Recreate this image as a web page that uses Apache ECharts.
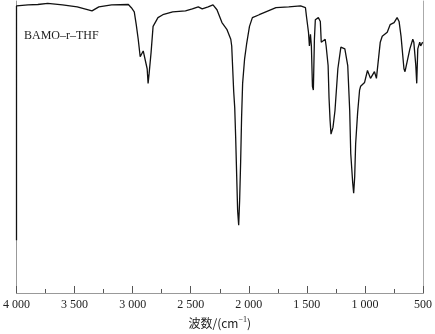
<!DOCTYPE html>
<html><head><meta charset="utf-8">
<script src="https://cdn.jsdelivr.net/npm/echarts@6/dist/echarts.min.js"></script>
<style>html,body{margin:0;padding:0;background:#fff}#c{width:435px;height:334px}</style>
</head><body><div id="c"></div>
<script>
var wavenumbers = [4000,4000,3901,3816,3731,3604,3477,3350,3291,3181,3037,3011,2986,2969,2952,2935,2909,2892,2875,2867,2858,2841,2824,2808,2782,2740,2655,2545,2486,2435,2401,2350,2308,2274,2231,2189,2155,2147,2130,2121,2113,2104,2096,2087,2079,2070,2062,2053,2036,2019,1994,1969,1910,1766,1656,1554,1512,1503,1486,1478,1469,1461,1452,1444,1435,1427,1401,1384,1376,1359,1342,1334,1317,1309,1300,1292,1275,1258,1233,1207,1190,1173,1148,1131,1122,1105,1097,1088,1080,1063,1046,1037,1003,978,952,918,901,868,851,808,783,749,723,706,689,664,655,638,613,588,579,562,554,545,528,520,503];
var transmittance = [18.1,98.3,98.7,98.8,99.2,98.7,98.0,96.6,98.0,98.7,98.8,97.7,96.3,91.9,86.9,80.9,82.9,82.5,76.8,71.8,75.2,82.5,91.3,90.9,94.3,95.3,96.3,96.6,97.3,98.0,97.3,98.0,98.7,97.0,92.6,90.3,86.9,84.6,69.1,63.4,53.4,39.9,28.2,23.2,31.5,45.0,60.1,71.8,80.2,85.2,91.3,94.3,95.3,97.7,98.0,98.3,97.7,94.6,89.3,84.6,88.6,84.6,70.8,69.5,86.9,93.6,94.3,93.0,85.9,85.9,86.9,84.6,77.9,66.8,59.1,54.4,56.7,62.4,76.8,84.2,84.6,83.6,77.9,62.4,47.7,37.6,34.2,39.9,51.0,61.7,69.5,70.8,72.1,76.2,73.5,75.8,73.5,85.9,87.9,89.3,91.9,92.6,94.3,93.0,87.9,76.8,75.8,76.2,83.6,86.9,85.9,77.9,71.8,83.6,85.9,84.6,85.9];
var xTicks = [500,1000,1500,2000,2500,3000,3500,4000];
var sampleLabel = 'BAMO–r–THF';
var xName = '波数/(cm{sup|−1})';

var data = wavenumbers.map(function(w,i){return [w, transmittance[i]];});
var serif = '"Liberation Serif","DejaVu Serif",serif';
var chart = echarts.init(document.getElementById('c'));
chart.setOption({
  animation:false,
  grid:{left:13,right:9,top:1,bottom:35},
  xAxis:[{
    type:'value', inverse:true, min:500, max:4000, interval:500,
    axisLine:{show:true,lineStyle:{color:'#555',width:1}},
    axisTick:{show:true,inside:true,length:7,lineStyle:{color:'#555'}},
    minorTick:{show:true,splitNumber:2,length:4,lineStyle:{color:'#555'}},
    splitLine:{show:false},
    axisLabel:{margin:6,fontFamily:serif,fontSize:12,color:'#222',
      formatter:function(v){return xTicks.indexOf(v)>=0 ? (v>=1000? Math.floor(v/1000)+' '+String(v%1000).padStart(3,'0') : String(v)) : '';}},
    name:xName, nameLocation:'middle', nameGap:23,
    nameTextStyle:{fontFamily:'"Noto Sans CJK SC",'+serif,fontSize:12,color:'#222',
      rich:{sup:{fontSize:8,verticalAlign:'top',padding:[0,0,6,0],fontFamily:serif,color:'#222'}}}
  },{
    type:'value', inverse:true, min:500, max:4000, position:'top',
    axisLine:{show:true,lineStyle:{color:'#999',width:1}},
    axisTick:{show:false},axisLabel:{show:false},splitLine:{show:false}
  }],
  yAxis:[{
    type:'value', min:0, max:100,
    axisLine:{show:true,lineStyle:{color:'#999',width:1}},
    axisTick:{show:false},axisLabel:{show:false},splitLine:{show:false}
  },{
    type:'value', min:0, max:100, position:'right',
    axisLine:{show:true,lineStyle:{color:'#aaa',width:1}},
    axisTick:{show:false},axisLabel:{show:false},splitLine:{show:false}
  }],
  graphic:[{type:'text',left:24,top:30,style:{text:sampleLabel,font:'12px '+serif,fill:'#222'}}],
  series:[{
    type:'line', data:data, showSymbol:false, symbol:'none',
    lineStyle:{color:'#111',width:1.3}
  }]
});
</script></body></html>
